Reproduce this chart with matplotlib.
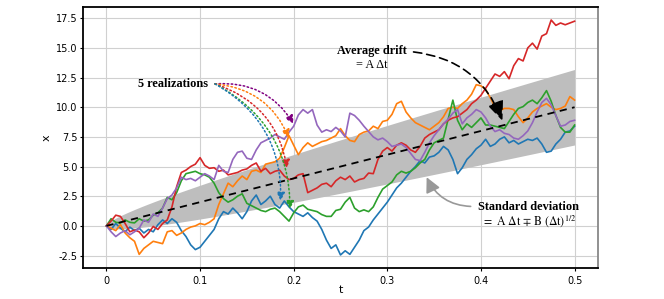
import numpy as np
import matplotlib
matplotlib.use("Agg")
import matplotlib.pyplot as plt

plt.rcParams['mathtext.fontset'] = 'stix'

# ---------------- data ----------------
t = [round(0.005 * i, 3) for i in range(101)]

blue = [0, -0.3, 0.2, -0.2, -0.5, -0.1, -0.4, -0.2, -0.6, -0.3,
        -0.5, 0.1, 0.5, 0.2, 0.6, 0.3, -0.4, -0.9, -1.6, -2.0,
        -1.8, -1.3, -0.8, -0.3, 0.6, 1.2, 1.0, 1.5, 1.1, 0.6,
        1.2, 2.1, 2.6, 1.8, 2.1, 2.5, 1.8, 1.5, 2.1, 1.6,
        1.2, 1.0, 0.8, 1.1, 0.7, 0.4, -0.3, -1.2, -1.9, -1.6,
        -2.45, -2.1, -2.4, -1.8, -1.2, -0.4, -0.1, 0.5, 1.0, 1.5,
        2.0, 2.6, 3.2, 3.6, 4.1, 4.6, 5.0, 5.5, 5.3, 5.8,
        5.9, 6.2, 6.7, 6.4, 5.6, 4.4, 4.9, 5.6, 6.0, 6.5,
        6.8, 7.3, 6.7, 6.9, 7.3, 7.5, 7.0, 7.2, 6.9, 7.1,
        7.3, 7.2, 7.4, 6.9, 6.2, 6.3, 6.9, 7.3, 7.9, 8.0,
        8.4]

orange = [0, -0.2, -0.4, 0.1, -0.6, -1.0, -1.3, -2.4, -1.9, -1.6,
          -1.3, -1.4, -1.5, -0.5, -0.4, -0.8, -0.6, -0.3, -0.1, 0.0,
          0.2, 0.1, 0.3, 0.6, 1.8, 2.7, 3.6, 3.3, 3.8, 4.2,
          3.9, 4.6, 4.7, 4.5, 5.2, 5.3, 5.4, 5.7, 6.6, 7.6,
          6.8, 6.0, 6.6, 7.0, 6.7, 6.9, 7.1, 7.2, 7.4, 7.6,
          8.2, 7.6, 7.2, 7.1, 7.7, 7.9, 8.0, 8.4, 8.2, 8.8,
          8.9, 9.4, 10.3, 10.5, 9.6, 9.1, 8.7, 8.5, 8.3, 8.1,
          8.4, 8.7, 9.2, 9.9, 10.0, 9.9, 10.3, 10.6, 11.1, 11.9,
          11.8, 11.5, 10.8, 10.0, 9.7, 9.9, 9.9, 9.8, 9.2, 8.7,
          9.1, 9.6, 9.9, 10.1, 10.3, 10.0, 9.8, 9.9, 10.1, 10.9,
          10.6]

green = [0, 0.6, 0.3, 0.25, 0.5, 0.3, 0.25, 0.6, 0.4, 0.5,
         0.9, 1.1, 1.5, 2.4, 2.2, 2.8, 3.8, 4.4, 4.5, 4.6,
         4.4, 4.3, 4.1, 3.6, 2.8, 2.3, 2.0, 2.2, 2.5, 2.7,
         1.9, 1.7, 1.5, 1.3, 1.2, 1.4, 1.5, 1.2, 0.8, 0.4,
         1.1, 1.6, 1.75, 1.4, 1.3, 1.2, 0.95, 0.8, 0.8, 1.3,
         1.4, 2.0, 2.4, 1.5, 1.2, 1.35, 1.2, 1.6, 2.4, 3.1,
         3.4, 3.7, 4.3, 4.6, 4.45, 4.6, 4.9, 5.3, 5.6, 6.4,
         7.0, 7.2, 7.4, 9.0, 10.6, 8.9, 8.1, 8.6, 8.3, 8.7,
         9.1, 8.5, 8.5, 8.4, 8.3, 8.2, 8.8, 9.4, 9.9, 10.05,
         10.4, 10.6, 10.3, 10.8, 11.4, 10.5, 9.3, 8.3, 7.9, 7.9,
         8.5]

red = [0, 0.4, 0.9, 0.8, 0.2, -0.5, -0.35, -0.5, -1.0, -0.6,
       -0.05, -0.3, 0.2, 0.5, 1.6, 3.3, 4.5, 4.7, 5.0, 5.2,
       5.75, 5.1, 4.85, 4.9, 4.6, 4.7, 4.3, 4.4, 4.5, 4.7,
       4.8, 5.1, 5.3, 4.6, 4.85, 4.4, 4.6, 4.7, 4.2, 3.9,
       4.0, 4.3, 4.4, 2.8, 3.0, 3.2, 3.5, 3.6, 3.3, 3.8,
       4.1, 3.9, 4.2, 3.7, 3.9, 4.0, 4.45, 4.4, 5.6, 6.3,
       6.6, 6.3, 6.8, 7.0, 6.8, 6.4, 6.2, 6.7, 7.4, 7.7,
       7.9, 8.1, 8.6, 8.9, 9.1, 9.2, 9.5, 9.8, 10.3, 10.6,
       11.0, 11.6, 12.2, 12.8, 12.6, 13.0, 12.4, 13.5, 14.1, 13.9,
       15.0, 15.4, 14.9, 16.0, 16.2, 17.35, 16.9, 17.1, 16.95, 17.1,
       17.25]

purple = [0, -0.5, -0.9, -0.6, -0.4, -0.75, -0.5, -0.2, 0.5, 0.3,
          1.0, 0.8, 1.5, 2.3, 2.6, 3.2, 4.1, 3.9, 4.0, 3.8,
          4.1, 4.4, 4.2, 3.9, 5.1, 4.6, 4.5, 5.6, 6.2, 6.3,
          5.7, 5.6, 6.4, 7.0, 7.2, 7.4, 7.7, 7.5, 7.3, 7.9,
          8.4, 9.35, 9.8, 9.5, 9.8, 8.5, 7.9, 8.1, 7.95, 8.3,
          8.0, 7.5, 9.5, 9.3, 8.9, 8.4, 7.95, 7.5, 7.25, 7.4,
          7.1, 6.7, 6.8, 6.9, 6.6, 6.1, 5.6, 5.5, 6.2, 7.0,
          7.6, 8.1, 8.6, 9.0, 9.5, 9.8, 8.6, 9.1, 9.4, 9.8,
          9.6, 9.1, 8.4, 7.95, 8.1, 7.8, 7.7, 7.4, 7.3, 7.6,
          8.0, 8.7, 9.6, 10.4, 10.75, 10.2, 9.3, 8.4, 8.5, 8.8,
          8.9]

series = [blue, orange, green, red, purple]
series_colors = ['C0', 'C1', 'C2', 'C3', 'C4']

# model parameters (mean = A t, band = A t -/+ B sqrt(t))
A = 20.0
B = 4.5
t_mean = [0.0, 0.5]

xticks = [0, 0.1, 0.2, 0.3, 0.4, 0.5]
xtick_labels = ['0', '0.1', '0.2', '0.3', '0.4', '0.5']
yticks = [-2.5, 0.0, 2.5, 5.0, 7.5, 10.0, 12.5, 15.0, 17.5]

# ---------------- figure ----------------
fig = plt.figure(figsize=(6.64, 2.99), dpi=100)
ax = fig.add_axes([0.125, 0.1037, 0.7756, 0.873])

tb = np.linspace(0, 0.5, 400)
ax.fill_between(tb, A * tb - B * np.sqrt(tb), A * tb + B * np.sqrt(tb),
                color='#bebebe', lw=0, zorder=1)

for s, c in zip(series, series_colors):
    ax.plot(t, s, color=c, lw=1.2, zorder=3)

ax.plot(t_mean, [A * v for v in t_mean], color='black', ls=(0, (4, 3)),
        lw=1.3, zorder=5)

ax.set_xlim(-0.025, 0.525)
ax.set_ylim(-3.55, 18.45)
ax.set_xticks(xticks)
ax.set_xticklabels(xtick_labels)
ax.set_yticks(yticks)
ax.set_yticklabels([f'{v:.1f}' for v in yticks])
ax.tick_params(labelsize=7, length=2, pad=2, width=0.8)
ax.tick_params(axis='x', pad=4)
ax.grid(True, color='#d0d0d0', lw=0.8, zorder=0)
ax.set_axisbelow(True)
ax.set_xlabel('t', fontsize=8, labelpad=-1)
ax.set_ylabel('x', fontsize=8, labelpad=3, rotation=90)
for side in ['left', 'bottom', 'top']:
    ax.spines[side].set_color('black')
    ax.spines[side].set_linewidth(1.3)
ax.spines['right'].set_color('#888888')
ax.spines['right'].set_linewidth(1.3)

serif = ['Liberation Serif', 'DejaVu Serif']
FS = 8.8

# "5 realizations"
ax.text(0.109, 11.97, '5 realizations', fontsize=FS, fontweight='bold',
        family=serif, ha='right', va='center', zorder=6)
start = (0.116, 11.97)
arrow_targets = [(0.200, 8.6, 'purple'), (0.195, 7.4, 'C1'),
                 (0.193, 4.85, 'C3'), (0.196, 1.4, 'C2'), (0.186, 2.1, 'C0')]
for xe, ye, c in arrow_targets:
    ax.annotate('', xy=(xe, ye), xytext=start,
                arrowprops=dict(arrowstyle='-|>,head_length=0.45,head_width=0.22',
                                color=c, lw=1.1, ls=':', mutation_scale=11,
                                shrinkA=0, shrinkB=0,
                                connectionstyle='arc3,rad=-0.3'),
                zorder=6)

# Average drift
ax.text(0.2836, 14.74, 'Average drift', fontsize=FS, fontweight='bold',
        family=serif, ha='center', va='center', zorder=6)
ax.text(0.2836, 13.6, '= A \u0394t', fontsize=FS, family=serif,
        ha='center', va='center', zorder=6)
ax.annotate('', xy=(0.423, 8.85), xytext=(0.328, 14.66),
            arrowprops=dict(arrowstyle='-|>,head_length=1.2,head_width=0.5',
                            color='black', lw=1.2, ls=(0, (5, 3)),
                            mutation_scale=10, shrinkA=0, shrinkB=0,
                            connectionstyle='arc3,rad=-0.3'),
            zorder=7)

# Standard deviation
ax.text(0.4506, 1.63, 'Standard deviation', fontsize=FS, fontweight='bold',
        family=serif, ha='center', va='center', zorder=6)
ax.text(0.452, 0.42,
        r'$=\ \mathrm{A}\ \Delta\mathrm{t}\,\mp\,\mathrm{B}\ (\Delta\mathrm{t})^{1/2}$',
        fontsize=8.5, ha='center', va='center', zorder=6)
ax.annotate('', xy=(0.342, 4.1), xytext=(0.389, 1.64),
            arrowprops=dict(arrowstyle='-|>,head_length=0.9,head_width=0.45',
                            color='#999999', lw=1.2, mutation_scale=10,
                            shrinkA=0, shrinkB=0,
                            connectionstyle='arc3,rad=-0.3'),
            zorder=6)

fig.savefig('out.png', dpi=100)
